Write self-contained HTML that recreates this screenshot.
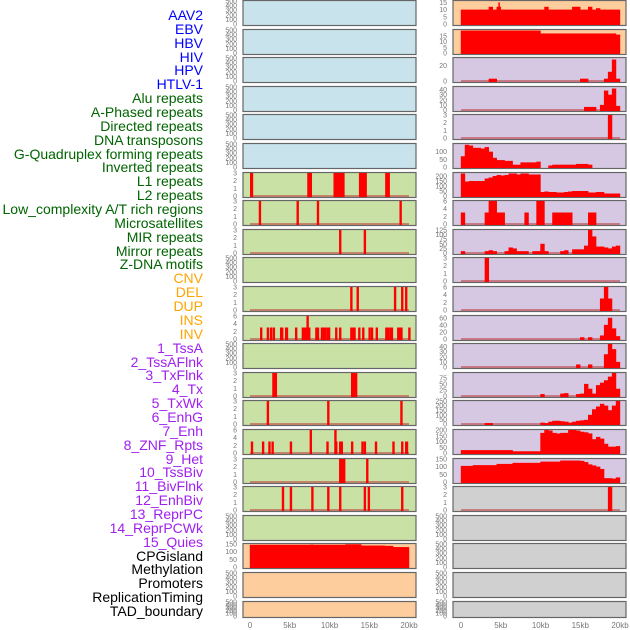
<!DOCTYPE html>
<html><head><meta charset="utf-8"><style>
html,body{margin:0;padding:0;background:#fff;}
body{width:630px;height:630px;overflow:hidden;position:relative;font-family:"Liberation Sans",sans-serif;}
#labels{position:absolute;left:0;top:0;width:203px;}
.lab{position:absolute;right:0;font-size:14px;line-height:14px;white-space:nowrap;text-align:right;}
svg{position:absolute;left:0;top:0;}
</style></head><body>
<div id="labels"></div>
<svg id="chart" width="630" height="630"></svg>
<script>
// ---- track label data ----
const labelNames=["AAV2","EBV","HBV","HIV","HPV","HTLV-1","Alu repeats","A-Phased repeats","Directed repeats","DNA transposons","G-Quadruplex forming repeats","Inverted repeats","L1 repeats","L2 repeats","Low_complexity A/T rich regions","Microsatellites","MIR repeats","Mirror repeats","Z-DNA motifs","CNV","DEL","DUP","INS","INV","1_TssA","2_TssAFlnk","3_TxFlnk","4_Tx","5_TxWk","6_EnhG","7_Enh","8_ZNF_Rpts","9_Het","10_TssBiv","11_BivFlnk","12_EnhBiv","13_ReprPC","14_ReprPCWk","15_Quies","CPGisland","Methylation","Promoters","ReplicationTiming","TAD_boundary"];
const labelGroups=[6,13,5,15,5];
const groupColors=["#0000ff","#006400","#ffa500","#a020f0","#000000"];

// ---- left panel spike data (kb positions) ----
const L6_start=[0.0,7.2,10.5,13.7,17.0], L6_end=[0.4,7.8,11.9,14.7,17.6];
const L7_pos=[1.1,5.85,8.4,18.8];
const L8_pos=[11.2,14.3];
const L10_pos=[12.6,13.4,18.1,19.0,19.5];
const L11_pos=[1.26,2.1,2.5,2.85,3.77,3.9,4.4,4.5,5.66,6.5,6.7,6.9,7.1,7.3,8.2,8.4,8.9,9.1,9.3,9.6,9.8,10.7,11.2,12.6,12.8,13.0,13.6,14.1,14.9,15.2,15.8,17.0,17.2,17.5,17.7,18.5,18.7,18.9,19.9];
const L11_val=[3,3,3,3,3,3,3,3,3,3,3,3,6,3,3,3,3,3,3,3,3,3,3,3,3,3,3,3,3,3,3,3,3,3,3,3,3,3,3];
const L13_start=[2.8,12.7], L13_end=[3.4,13.5];
const L14_pos=[2.1,9.7,18.9];
const L15_pos=[0.1,1.5,2.3,2.7,5.0,7.5,9.6,10.6,10.7,11.2,11.4,12.7,14.0,14.3,15.7,17.9,19.0,19.5,19.6];
const L15_val=[3,3,3,3,3,6,3,6,3,3,3,3,3,3,3,3,3,3,3];
const L16_start=[11.2,14.6], L16_end=[12.0,14.9];
const L17_pos=[4.0,5.0,7.7,9.7,11.2,14.3,14.8,19.0];
const L19_bins=[145,145,145,145,145,145,145,145,145,145,145,145,145,145,145,146,145,145,145,145,145,145,145,145,148,148,148,148,140,140,140,140,140,140,138,138,130,130,130,130];

// ---- right panel binned data (40 bins x 0.5kb) ----
const R0_bins=[10,10,10,10,10,10,10,12,10,12,10,10,10,10,10,10,10,10,10,10,10,12,10,10,10,10,10,10,12,12,10,10,12,10,11,10,10,10,10,10];
const R0_peak=[0,0,0,0,0,0,0,0,0,15,0,0,0,0,0,0,0,0,0,0,0,0,0,0,0,0,0,0,0,0,0,0,0,0,0,0,0,0,0,0];
const R1_bins=[19.5,19.5,19.5,19.5,19.5,19.5,19.5,19.5,19.5,19.5,19.5,19.5,19.5,19.5,19.5,19.5,19.5,19.5,19.5,19.5,17,17,17,17,17,17,17,17,17,17,17,17,17,17,17,17,17,17,17,16];
const R2_bins=[0,0,0,0,0,0,0,3,3,0,0,0,0,0,0,0,0,0,0,0,0,0,0,0,0,0,0,0,0,0,3,3,0,0,0,0,3,12,28,3];
const R3_bins=[0,0,0,0,0,0,0,0,0,0,0,0,0,0,0,0,0,0,0,0,0,0,0,0,0,0,0,0,0,0,0,6,6,6,0,10,38,30,42,8];
const R4_bins=[0,0,0,0,0,0,0,0,0,0,0,0,0,0,0,0,0,0,0,0,0,0,0,0,0,0,0,0,0,0,0,0,0,0,0,0,0,3,0,0];
const R5_bins=[70,145,140,125,125,120,130,100,60,45,45,40,40,15,15,30,30,30,30,35,0,0,10,15,15,15,15,15,15,20,20,20,15,0,0,0,0,0,0,0];
const R6_bins=[225,145,150,150,150,150,175,185,200,210,205,210,225,225,215,225,225,215,215,215,40,45,40,40,35,35,40,45,50,50,50,50,35,35,40,40,25,25,25,25];
const R7_bins=[3,0,0,0,0,0,3,6,6,3,3,0,0,0,0,0,3,0,0,6,6,0,0,3,3,3,3,3,0,0,0,0,3,3,0,0,0,0,0,0];
const R8_bins=[10,0,0,0,0,0,10,15,10,0,0,10,30,25,10,10,10,0,10,10,50,10,0,0,0,10,15,0,20,20,20,40,125,90,35,35,30,25,35,40];
const R9_bins=[0,0,0,0,0,0,3,0,0,0,0,0,0,0,0,0,0,0,0,0,0,0,0,0,0,0,0,0,0,0,0,0,0,0,0,0,0,0,0,0];
const R10_bins=[0,0,0,0,0,0,0,0,0,0,0,0,0,0,0,0,0,0,0,0,0,0,0,0,0,0,0,0,0,0,0,0,0,0,0,3,6,3,0,0];
const R11_bins=[0,0,0,0,0,0,0,0,0,0,0,0,0,0,0,0,0,0,0,0,0,0,0,0,0,0,0,0,0,0,5,0,5,0,0,10,40,60,30,8];
const R12_bins=[0,0,0,0,0,0,0,0,0,0,0,0,0,0,0,0,0,0,0,0,0,0,0,0,0,0,0,0,0,5,0,0,5,0,0,0,25,45,35,10];
const R13_bins=[0,0,0,0,0,0,0,0,0,0,0,0,0,0,0,0,0,0,0,0,8,0,0,0,0,10,12,0,0,8,10,50,30,10,45,55,65,80,95,30];
const R14_bins=[0,0,0,0,0,0,10,10,0,0,0,0,0,0,0,0,0,0,0,0,15,10,25,35,35,30,25,15,25,35,40,45,100,160,190,220,200,150,200,250];
const R15_bins=[25,25,25,25,25,25,25,25,25,25,25,25,25,15,15,15,15,15,15,15,175,200,195,175,170,175,175,200,200,195,185,180,170,120,140,125,80,55,55,60];
const R16_bins=[105,105,105,110,110,110,110,110,110,118,118,118,118,125,125,125,125,125,125,125,133,133,133,133,133,140,140,140,140,140,138,130,115,108,100,85,25,25,22,30];
const R17_bins=[0,0,0,0,0,0,0,0,0,0,0,0,0,0,0,0,0,0,0,0,0,0,0,0,0,0,0,0,0,0,0,0,0,0,0,0,0,3,0,0];

// ---- axis tick data ----
const ticksEmpty=[0,100,200,300,400,500];
const ticks3=[0,1,2,3], ticks6=[0,2,4,6];
const xTickKb=[0,5,10,15,20];
const xTickLabels=["0","5kb","10kb","15kb","20kb"];

const NS="http://www.w3.org/2000/svg";
const svg=document.getElementById('chart');
function mk(tag,attrs,parent){const e=document.createElementNS(NS,tag);for(const k in attrs)e.setAttribute(k,attrs[k]);(parent||svg).appendChild(e);return e;}

// labels
const labDiv=document.getElementById('labels');
let li=0;
labelGroups.forEach((n,g)=>{for(let k=0;k<n;k++){const d=document.createElement('div');d.className='lab';


d.style.top=(8+li*13.86)+'px';d.style.color=groupColors[g];d.textContent=labelNames[li];labDiv.appendChild(d);li++;}});

const BG={blue:"#c8e3eb",green:"#c9e1a5",orange:"#fecd9d",purple:"#d6c7e2",gray:"#d0d0d0"};
function rowTop(i){return Math.round(i*28.6);}
function rowH(i){return i===21?16:25;}
function xScale(side){const x0=side==='L'?250:461;return kb=>x0+kb*7.95;}
function yScale(i,max){const b=rowTop(i)+rowH(i)-1,h=rowH(i)-2;return v=>b-v/max*h;}

function panel(side,i,bg,max,ticks,drawFn,baseline){
  const px=side==='L'?243:453;
  const g=mk('g',{});
  
  
  mk('rect',{x:px,y:rowTop(i)+0.5,width:173,height:rowH(i),fill:BG[bg],stroke:'#666',"stroke-width":1.2},g);
  const xs=xScale(side),ys=yScale(i,max);
  if(baseline) mk('rect',{x:xs(0),y:rowTop(i)+rowH(i)-2,width:xs(20)-xs(0),height:2,fill:'rgba(190,60,60,0.55)'},g);
  if(drawFn) drawFn(g,xs,ys);
  ticks.forEach(t=>{const tx=mk('text',{x:px-6,y:ys(t)+2.5,"font-size":7,fill:'#777',"text-anchor":'end'},g);tx.textContent=t;});
}
function spikes(pos,vals,w){return (g,xs,ys)=>pos.forEach((p,k)=>{const v=vals?vals[k]:3;const r=mk('rect',{x:xs(p),y:ys(v),width:Math.max(2,xs(w||0.3)-xs(0)),height:ys(0)-ys(v)+1,fill:'#ff0000'},g);
});}
function blocks(st,en,v){return (g,xs,ys)=>st.forEach((s,k)=>{const r=mk('rect',{x:xs(s),y:ys(v),width:xs(en[k])-xs(s),height:ys(0)-ys(v)+1,fill:'#ff0000'},g);
});}
function bins(arr,extra){return (g,xs,ys)=>{arr.forEach((v,k)=>{if(v<=0)return;const r=mk('rect',{x:xs(k*0.5)-0.2,y:ys(v),width:xs(0.5)-xs(0)+0.4,height:ys(0)-ys(v)+1,fill:'#ff0000'},g);
});
if(extra)extra.forEach((v,k)=>{if(v<=0)return;const r=mk('rect',{x:xs(k*0.5+0.2),y:ys(v),width:1.5,height:ys(0)-ys(v),fill:'#ff0000'},g);
});};}

// left panels
for(let i=0;i<6;i++) panel('L',i,'blue',500,ticksEmpty,null,false);
panel('L',6,'green',3,ticks3,blocks(L6_start,L6_end,3),true);
panel('L',7,'green',3,ticks3,spikes(L7_pos),true);
panel('L',8,'green',3,ticks3,spikes(L8_pos),true);
panel('L',9,'green',500,ticksEmpty,null,false);
panel('L',10,'green',3,ticks3,spikes(L10_pos),true);
panel('L',11,'green',6,ticks6,spikes(L11_pos,L11_val),true);
panel('L',12,'green',500,ticksEmpty,null,false);
panel('L',13,'green',3,ticks3,blocks(L13_start,L13_end,3),true);
panel('L',14,'green',3,ticks3,spikes(L14_pos),true);
panel('L',15,'green',6,ticks6,spikes(L15_pos,L15_val),true);
panel('L',16,'green',3,ticks3,blocks(L16_start,L16_end,3),true);
panel('L',17,'green',3,ticks3,spikes(L17_pos),true);
panel('L',18,'green',500,ticksEmpty,null,false);
panel('L',19,'orange',150,[0,50,100,150],bins(L19_bins),false);
panel('L',20,'orange',500,ticksEmpty,null,false);
panel('L',21,'orange',500,ticksEmpty,null,false);

// right panels
panel('R',0,'orange',16,[0,5,10,15],bins(R0_bins,R0_peak),false);
panel('R',1,'orange',20,[0,5,10,15],bins(R1_bins),false);
panel('R',2,'purple',30,[0,20],bins(R2_bins),true);
panel('R',3,'purple',45,[0,10,20,30,40],bins(R3_bins),true);
panel('R',4,'purple',3,ticks3,bins(R4_bins),true);
panel('R',5,'purple',150,[0,50,100],bins(R5_bins),false);
panel('R',6,'purple',230,[0,50,100,150,200],bins(R6_bins),false);
panel('R',7,'purple',6,ticks6,bins(R7_bins),true);
panel('R',8,'purple',125,[0,25,50,75,100,125],bins(R8_bins),true);
panel('R',9,'purple',3,ticks3,bins(R9_bins),true);
panel('R',10,'purple',6,ticks6,bins(R10_bins),true);
panel('R',11,'purple',65,[0,20,40,60],bins(R11_bins),true);
panel('R',12,'purple',45,[0,10,20,30,40],bins(R12_bins),true);
panel('R',13,'purple',95,[0,25,50,75],bins(R13_bins),true);
panel('R',14,'purple',250,[0,50,100,150,200,250],bins(R14_bins),true);
panel('R',15,'purple',200,[0,50,100,150,200],bins(R15_bins),false);
panel('R',16,'purple',150,[0,50,100,150],bins(R16_bins),false);
panel('R',17,'gray',3,ticks3,bins(R17_bins),true);
for(let i=18;i<22;i++) panel('R',i,'gray',500,ticksEmpty,null,false);

// x axes
['L','R'].forEach(side=>{const xs=xScale(side);xTickKb.forEach((k,j)=>{const t=mk('text',{x:xs(k),y:628,"font-size":8,fill:'#777',"text-anchor":'middle'});


t.textContent=xTickLabels[j];});});
</script>
</body></html>
